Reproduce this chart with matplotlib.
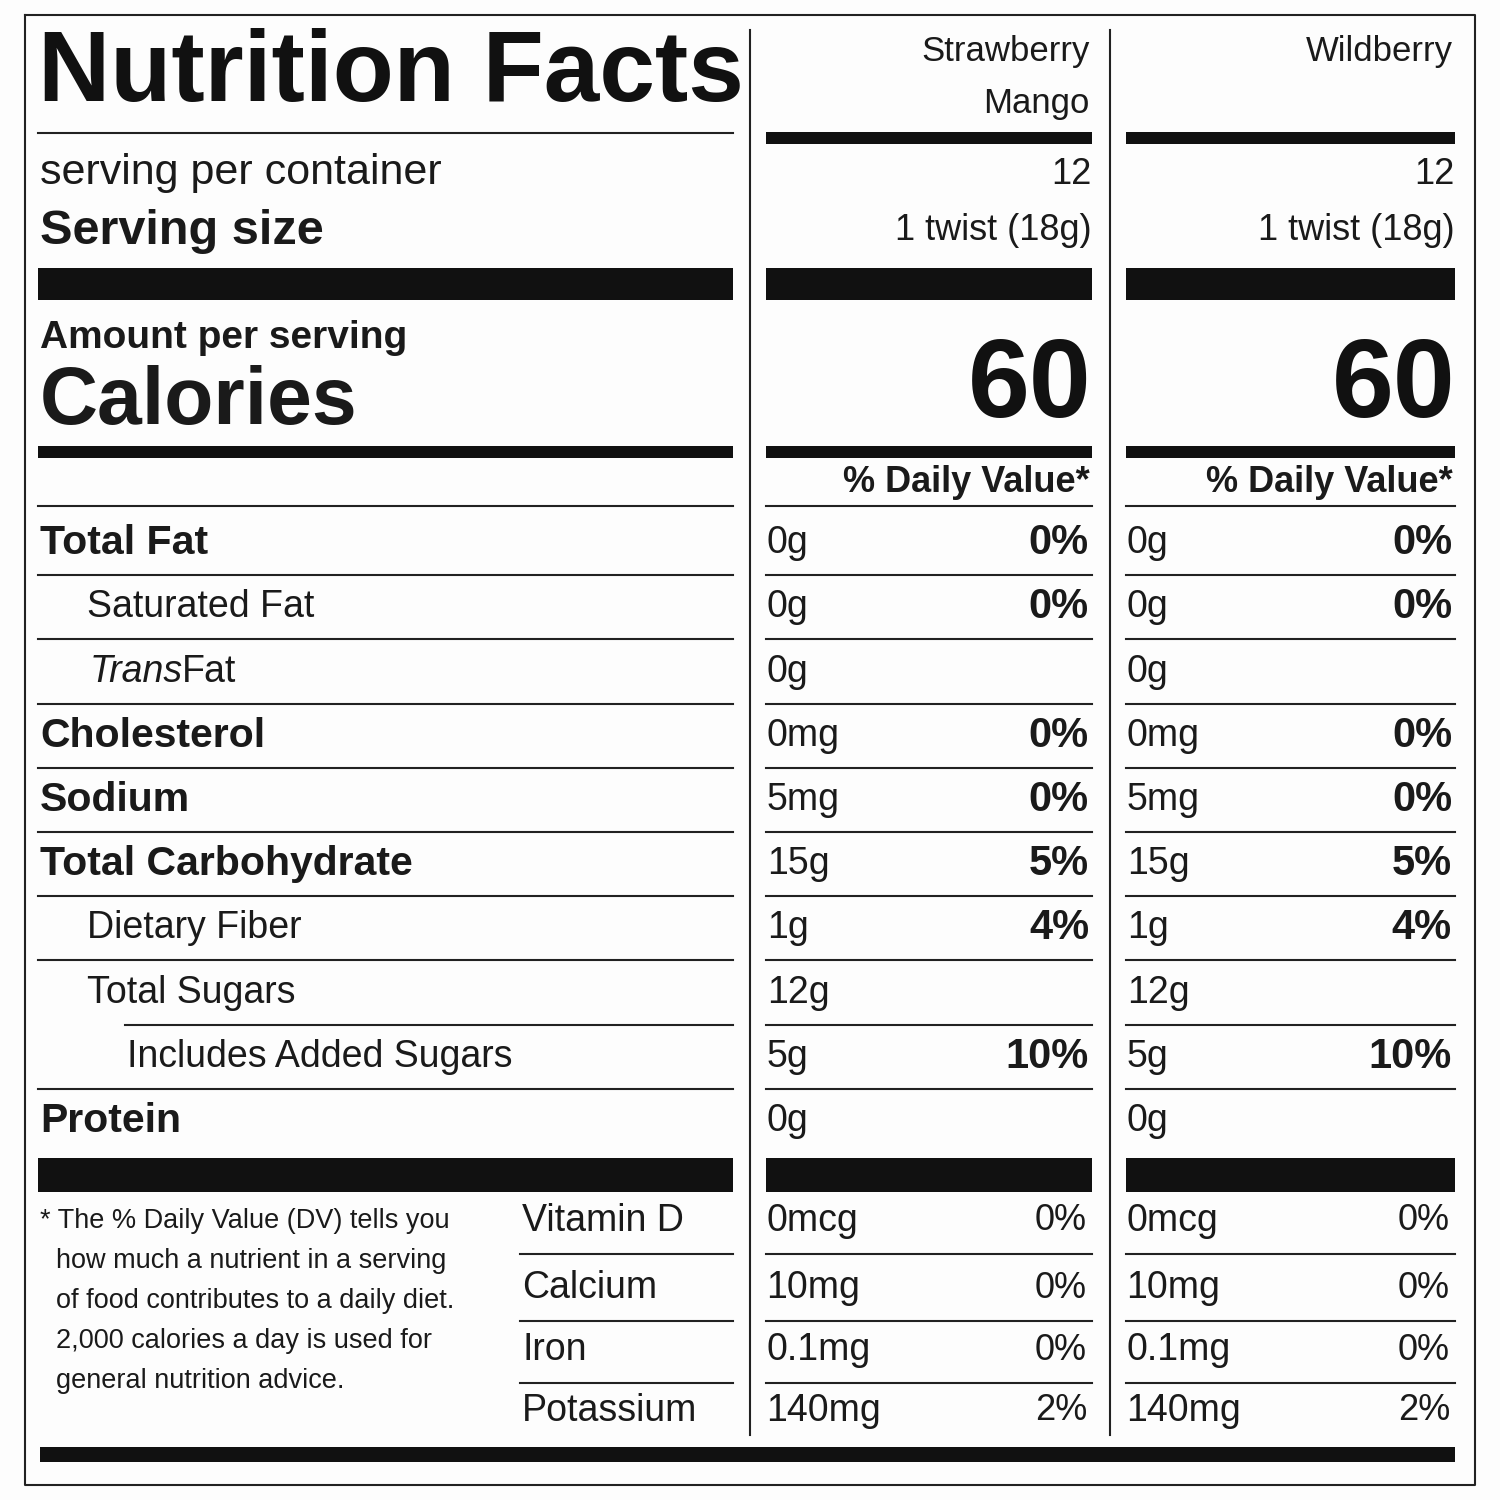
import matplotlib
matplotlib.use("Agg")
import matplotlib.pyplot as plt

plt.rcParams['font.family'] = ['Liberation Sans', 'DejaVu Sans']

products = ["Strawberry\nMango", "Wildberry"]
servings = ["12", "12"]
serving_size = ["1 twist (18g)", "1 twist (18g)"]
calories = ["60", "60"]

nutrients = ["Total Fat", "Saturated Fat", "Trans Fat", "Cholesterol", "Sodium",
             "Total Carbohydrate", "Dietary Fiber", "Total Sugars",
             "Includes Added Sugars", "Protein"]
indent = [0, 1, 1, 0, 0, 0, 1, 1, 2, 0]
amounts = ["0g", "0g", "0g", "0mg", "5mg", "15g", "1g", "12g", "5g", "0g"]
dv = ["0%", "0%", "", "0%", "0%", "5%", "4%", "", "10%", ""]

vitamins = ["Vitamin D", "Calcium", "Iron", "Potassium"]
vit_amounts = ["0mcg", "10mg", "0.1mg", "140mg"]
vit_dv = ["0%", "0%", "0%", "2%"]

footnote = ["* The % Daily Value (DV) tells you",
            "how much a nutrient in a serving",
            "of food contributes to a daily diet.",
            "2,000 calories a day is used for",
            "general nutrition advice."]

fig = plt.figure(figsize=(15, 15), dpi=100)
ax = fig.add_axes([0, 0, 1, 1])
ax.set_xlim(0, 1500)
ax.set_ylim(1500, 0)
ax.axis('off')
fig.patch.set_facecolor('#fdfdfd')

cols = [(38, 733), (766, 1092), (1126, 1455)]
TXT = '#1a1a1a'

def bar(x0, x1, y0, y1):
    ax.fill_between([x0, x1], y0, y1, color='#111111', lw=0)

def hline(x0, x1, y, lw=1.5):
    ax.plot([x0, x1], [y, y], color='#222222', lw=lw)

# border and dividers
ax.plot([25, 1475, 1475, 25, 25], [15, 15, 1485, 1485, 15], color='#222', lw=1.5)
for x in (750, 1110):
    ax.plot([x, x], [30, 1435], color='#222', lw=1.5)

ax.text(38, 75, "Nutrition Facts", weight='bold', fontsize=72,
        va='center', ha='left', color='#111')
hline(38, 733, 133)
ax.text(40, 173, "serving per container", fontsize=31, va='center', color=TXT)
ax.text(40, 231, "Serving size", weight='bold', fontsize=35, va='center', color=TXT)
for x0, x1 in cols:
    bar(x0, x1, 268, 300)
    bar(x0, x1, 446, 458)
    hline(x0, x1, 506)
    bar(x0, x1, 1158, 1192)
ax.text(40, 338, "Amount per serving", weight='bold', fontsize=28, va='center', color=TXT)
ax.text(40, 403, "Calories", weight='bold', fontsize=58, va='center', color=TXT)

rows_y = [543, 607, 672, 736, 800, 864, 928, 993, 1057, 1121]
for i, (c0, c1) in enumerate(cols[1:]):
    bar(c0, c1, 132, 144)
    parts = products[i].split("\n")
    for k, p in enumerate(parts):
        ax.text(c1 - 2, 52 + 51 * k, p, fontsize=25, ha='right', va='center', color=TXT)
    ax.text(c1, 175, servings[i], fontsize=26, ha='right', va='center', color=TXT)
    ax.text(c1, 230, serving_size[i], fontsize=26, ha='right', va='center', color=TXT)
    ax.text(c1, 388, calories[i], weight='bold', fontsize=80,
            ha='right', va='center', color='#111')
    ax.text(c1 - 2, 483, "% Daily Value*", weight='bold', fontsize=26,
            ha='right', va='center', color=TXT)
    for j, y in enumerate(rows_y):
        ax.text(c0 + 1, y, amounts[j], fontsize=27, va='center', color=TXT)
        if dv[j]:
            ax.text(c1 - 3, y, dv[j], weight='bold', fontsize=30,
                    ha='right', va='center', color=TXT)
        if j < len(rows_y) - 1:
            hline(c0, c1, y + 32)
    for k, y in enumerate([1221, 1288, 1350, 1411]):
        ax.text(c0, y, vit_amounts[k], fontsize=27, va='center', color=TXT)
        ax.text(c1 - 5, y, vit_dv[k], fontsize=26, ha='right', va='center', color=TXT)
        if k < 3:
            hline(c0, c1, y + 33)

offsets = [0, 47, 47, 0, 0, 0, 47, 47, 87, 0]
for j, y in enumerate(rows_y):
    x = 40 + offsets[j]
    label = nutrients[j]
    if indent[j] == 0:
        ax.text(x, y, label, weight='bold', fontsize=29.5, va='center', color=TXT)
    elif label == "Trans Fat":
        ax.text(90, y, "Trans", fontsize=27, style='italic', va='center', color=TXT)
        ax.text(182, y, "Fat", fontsize=27, va='center', color=TXT)
    else:
        ax.text(x, y, label, fontsize=27, va='center', color=TXT)
    if j < len(rows_y) - 1:
        hline(125 if j == 7 else 38, 733, y + 32)

for k, line in enumerate(footnote):
    ax.text(40 if k == 0 else 56, 1221 + 40 * k, line, fontsize=19.5, va='center', color=TXT)
for k, y in enumerate([1221, 1288, 1350, 1411]):
    ax.text(522, y, vitamins[k], fontsize=27, va='center', color=TXT)
    if k < 3:
        hline(520, 733, y + 33)

bar(40, 1455, 1447, 1462)

fig.savefig("out.png", dpi=100, facecolor=fig.get_facecolor())
